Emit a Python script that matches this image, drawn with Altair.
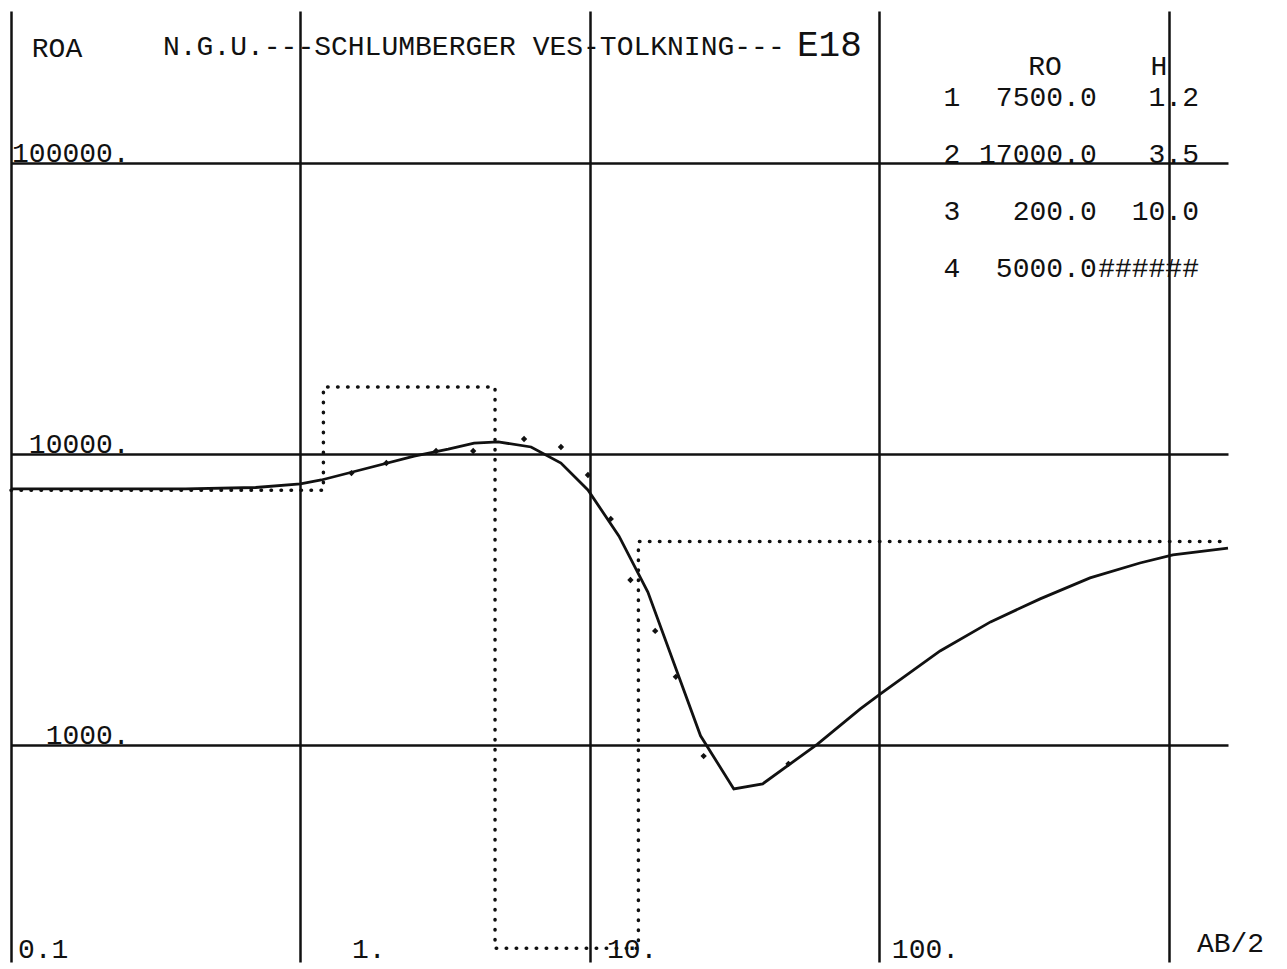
import altair as alt
import pandas as pd

# ---- model (layer table) ----
layer_no = [1, 2, 3, 4]
layer_ro = [7500.0, 17000.0, 200.0, 5000.0]
layer_h = [1.2, 3.5, 10.0, None]
h_text = ["1.2", "3.5", "10.0", "######"]
ro_text = ["7500.0", "17000.0", "200.0", "5000.0"]

# ---- computed apparent resistivity curve ----
curve_ab2 = [0.1, 0.4, 0.7, 1.0, 1.18, 1.66, 2.47, 3.24, 3.98, 4.82, 6.26, 7.94, 9.84,
             12.6, 15.85, 24.1, 31.4, 39.5, 61.1, 85.9, 100.8, 162, 242, 359, 534,
             794, 1032, 1600]
curve_roa = [7590, 7590, 7670, 7900, 8140, 8880, 9840, 10400, 10900, 11000, 10570, 9310, 7520,
             5220, 3355, 1075, 706, 735, 1007, 1330, 1497, 2104, 2648, 3177, 3750,
             4220, 4500, 4750]

# ---- field measurements ----
field_ab2 = [1.5, 1.98, 2.94, 3.95, 5.92, 7.94, 9.84, 11.8, 13.8, 16.8, 19.8, 24.7, 48.5]
field_roa = [8600, 9310, 10240, 10240, 11260, 10570, 8470, 5980, 3690, 2465, 1714, 916, 861]

# ---- axes ----
x_grid = [0.1, 1, 10, 100, 1000]
y_grid = [1000, 10000, 100000]
x_domain = [0.1, 1600]
y_domain = [179.5, 333000]
y_tick_text = ["1000.", "10000.", "100000."]
x_tick_text = ["0.1", "1.", "10.", "100."]
x_tick_pos = [0.1057, 1.507, 11.45, 110.4]

FONT = "Liberation Mono"
INK = "#111111"

xs = alt.Scale(type="log", domain=x_domain, nice=False, clamp=False)
ys = alt.Scale(type="log", domain=y_domain, nice=False, clamp=False)

x_axis = alt.Axis(values=x_grid, grid=True, gridColor=INK, gridWidth=2.5, gridOpacity=1,
                  domain=False, ticks=False, labels=False, title=None)
y_axis = alt.Axis(values=y_grid, grid=True, gridColor=INK, gridWidth=2.5, gridOpacity=1,
                  domain=False, ticks=False, labels=False, title=None)

# step model line
tops = [0.1]
acc = 0.0
for h in layer_h[:-1]:
    acc += h
    tops.append(acc)
model_df = pd.DataFrame({"ab2": tops + [x_domain[1]], "ro": layer_ro + [layer_ro[-1]]})

curve_df = pd.DataFrame({"ab2": curve_ab2, "roa": curve_roa})
field_df = pd.DataFrame({"ab2": field_ab2, "roa": field_roa})

base_x = alt.X("ab2:Q", scale=xs, axis=x_axis)

model = alt.Chart(model_df).mark_line(
    interpolate="step-after", color=INK, strokeWidth=3.5, strokeDash=[0.5, 9.5], strokeCap="round"
).encode(x=base_x, y=alt.Y("ro:Q", scale=ys, axis=y_axis))

curve = alt.Chart(curve_df).mark_line(color=INK, strokeWidth=2.8).encode(
    x=alt.X("ab2:Q", scale=xs), y=alt.Y("roa:Q", scale=ys))

field = alt.Chart(field_df).mark_point(shape="diamond", filled=True, size=40, color=INK, opacity=1).encode(
    x=alt.X("ab2:Q", scale=xs), y=alt.Y("roa:Q", scale=ys))

# ---- text annotations ----
def text_layer(df, size=28, align="left", baseline="alphabetic", dy=0):
    return alt.Chart(df).mark_text(font=FONT, fontSize=size, align=align, baseline=baseline,
                                   color=INK, dy=dy).encode(
        x=alt.X("x:Q", scale=xs), y=alt.Y("y:Q", scale=ys), text="t:N")

ytick_df = pd.DataFrame({"x": [0.257] * 3, "y": y_grid, "t": y_tick_text})
xtick_df = pd.DataFrame({"x": x_tick_pos, "y": [186] * 4, "t": x_tick_text})
ab2_df = pd.DataFrame({"x": [1250], "y": [194.5], "t": ["AB/2"]})
roa_df = pd.DataFrame({"x": [0.118], "y": [231000], "t": ["ROA"]})
title_df = pd.DataFrame({"x": [0.335], "y": [235000], "t": ["N.G.U.---SCHLUMBERGER VES-TOLKNING---"]})
e18_df = pd.DataFrame({"x": [51.9], "y": [233000], "t": ["E18"]})

row_y = [157000, 100000, 63700, 40550]
hdr_df = pd.DataFrame({"x": [373, 923], "y": [200000, 200000], "t": ["RO", "H"]})
idx_df = pd.DataFrame({"x": [178] * 4, "y": row_y, "t": [str(n) for n in layer_no]})
ro_df = pd.DataFrame({"x": [563] * 4, "y": row_y, "t": ro_text})
h_df = pd.DataFrame({"x": [1270] * 4, "y": row_y, "t": h_text})

chart = alt.layer(
    model, curve, field,
    text_layer(ytick_df, align="right", dy=-1),
    text_layer(xtick_df),
    text_layer(ab2_df),
    text_layer(roa_df),
    text_layer(title_df),
    text_layer(e18_df, size=36),
    text_layer(hdr_df, align="center"),
    text_layer(idx_df, align="center"),
    text_layer(ro_df, align="right"),
    text_layer(h_df, align="right"),
).properties(
    width=1217, height=951,
    autosize=alt.AutoSizeParams(type="none"),
    padding={"left": 3, "top": 3, "right": 50, "bottom": 8},
    background="white",
).configure_view(stroke=None)

chart.save("out.html", embed_options={"renderer": "svg", "actions": False})
